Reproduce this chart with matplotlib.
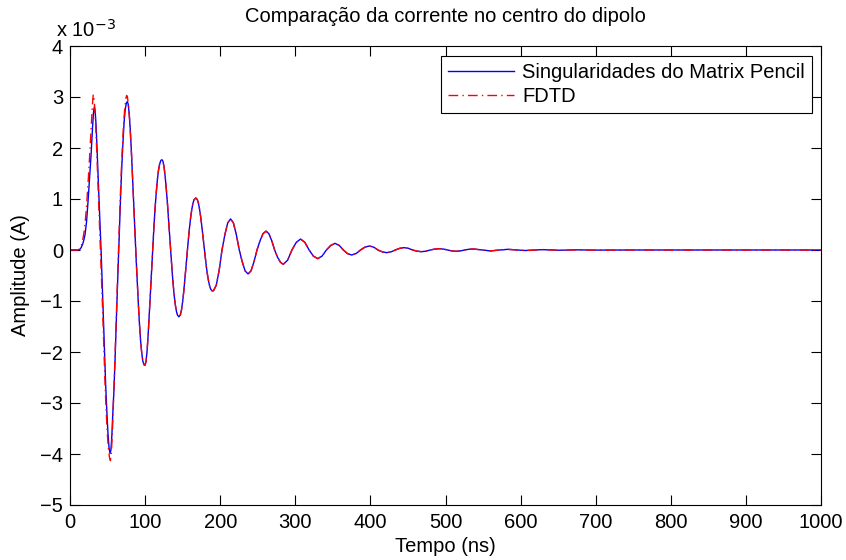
#comparing the dipole centre current
#matrix pencil singularities vs fdtd
import matplotlib
matplotlib.use('Agg')
import matplotlib.pyplot as plt
import numpy as np

#values, amplitude in units of 1e-3 A
t_mp=[0,10,13,15,17,18.5,20,22,24,26,28,30,31.3,32.4,33.5,34.5,35.5,37,38.5,40,41.5,43,44.5,46,47.5,49,50.5,52,53.3,54.5,55.7,57,58.5,60,61.5,63,64.5,66,67.5,69,70.5,72,73.5,75,76.3,77.5,79,80.5,82,83.5,85,86.5,88,89.5,91,92.5,94,95.5,97,98.5,99.9,101.3,102.8,104.3,105.8,107.3,108.8,110.3,111.8,113.3,114.8,116.3,117.8,119.3,120.8,122.3,123.8,125.3,126.8,128.3,129.8,131.3,132.8,134.3,135.8,137.3,138.8,140.3,141.8,143.3,145,147,148.5,150,151.5,153,154.5,156,157.5,159,160.5,162,163.5,165,167.5,169.5,171,172.5,174,175.5,177,178.5,180,181.5,183,184.5,186,187.5,189,191,194.8,198.6,202.4,206.2,210,213.8,217.6,221.5,225.4,229.3,233.2,237.1,241,245,249,253,257,261,264.8,268.7,272.5,276.3,280.2,284,289.8,295.5,301.3,307,312.7,318.4,324.1,329.8,335.6,341.4,347.2,353,358.5,364,369.5,375,380.9,386.8,392.7,398.6,404.4,410.1,415.9,421.6,427.4,433.2,439,444.7,450.5,456.3,462.1,468,473.9,479.8,485.7,491.7,497.3,503,508.5,514,520,525.5,531,537,549,560,572,583,595,606,618,629,652,675,698,750,1000]
amp_mp=[0,0,0.01,0.05,0.12,0.2,0.3,0.55,0.95,1.4,1.85,2.4,2.7,2.81,2.72,2.5,2.18,1.6,1.05,0.5,-0.05,-0.7,-1.4,-2.05,-2.65,-3.15,-3.58,-3.88,-3.99,-3.92,-3.65,-3.2,-2.75,-2.15,-1.45,-0.8,-0.15,0.5,1.1,1.65,2.1,2.5,2.75,2.88,2.91,2.86,2.65,2.3,1.85,1.35,0.85,0.35,-0.15,-0.6,-1.05,-1.45,-1.78,-2.02,-2.18,-2.25,-2.26,-2.18,-1.95,-1.6,-1.2,-0.78,-0.35,0.07,0.47,0.82,1.12,1.37,1.56,1.68,1.75,1.77,1.74,1.62,1.43,1.18,0.9,0.58,0.25,-0.08,-0.38,-0.66,-0.9,-1.08,-1.21,-1.28,-1.31,-1.27,-1.17,-1.01,-0.81,-0.57,-0.32,-0.06,0.19,0.42,0.62,0.78,0.9,0.98,1.02,0.99,0.92,0.8,0.65,0.47,0.27,0.07,-0.13,-0.32,-0.48,-0.61,-0.71,-0.77,-0.8,-0.8,-0.69,-0.4,0,0.3,0.53,0.61,0.53,0.3,0,-0.23,-0.41,-0.47,-0.41,-0.23,0,0.18,0.32,0.37,0.32,0.18,0,-0.14,-0.24,-0.28,-0.2,0,0.15,0.215,0.15,0,-0.12,-0.17,-0.12,0,0.09,0.13,0.09,0,-0.07,-0.098,-0.07,0,0.056,0.079,0.056,0,-0.037,-0.052,-0.037,0,0.033,0.046,0.033,0,-0.023,-0.033,-0.023,0,0.018,0.025,0.018,0,-0.018,-0.025,-0.018,0,0.014,0.02,0,-0.018,0,0.013,0,-0.01,0,0.007,-0.005,0.003,-0.002,0,0]

#fdtd overshoots a bit on the first cycles, then it sits on top of the matrix pencil curve
t_fdtd_head=[0,10,13,15,17,18.5,20,22,24,26,28,29.5,30.5,31,31.8,33,34.5,36,37.5,39,40.5,42,43.5,45,46.5,48,49.5,51,52.5,53.8,55.2,56.5,58,59.5,61,62.5,64,65.5,67,68.5,70,71.5,73,74.5,75.5,76.5,78,79.5,81]
amp_fdtd_head=[0,0,0.02,0.08,0.2,0.33,0.5,0.85,1.3,1.8,2.35,2.75,2.98,3.05,3.0,2.78,2.35,1.8,1.2,0.6,0.05,-0.55,-1.2,-1.9,-2.55,-3.1,-3.55,-3.88,-4.06,-4.13,-3.95,-3.55,-2.95,-2.3,-1.6,-0.92,-0.25,0.42,1.05,1.62,2.1,2.5,2.8,2.98,3.03,3.0,2.82,2.52,2.12]

series_labels=['Singularidades do Matrix Pencil','FDTD']
xticks=list(range(0,1001,100))
yticks=list(range(-5,5))

#glue the fdtd head onto the shared tail
tail=[i for i in range(len(t_mp)) if t_mp[i]>t_fdtd_head[-1]]
t_fdtd=t_fdtd_head+[t_mp[i] for i in tail]
amp_fdtd=amp_fdtd_head+[amp_mp[i] for i in tail]

plt.rcParams['font.family']=['Liberation Sans','DejaVu Sans']
fs=14.5

fig=plt.figure(figsize=(8.46,5.6),dpi=100)
ax=fig.add_axes([70/846,1-505/560,751/846,459/560])

ax.plot(t_mp,amp_mp,color=(0,0,1),lw=1,label=series_labels[0])
ax.plot(t_fdtd,amp_fdtd,color=(1,0,0),lw=1,linestyle=(0,(7,3,1,3)),label=series_labels[1])

ax.set_xlim(0,1000)
ax.set_ylim(-5,4)
ax.set_xticks(xticks)
ax.set_yticks(yticks)
ax.tick_params(direction='in',length=7,width=0.8,top=True,right=True,labelsize=fs)
ax.tick_params(axis='x',pad=6)
ax.tick_params(axis='y',pad=5)
for s in ax.spines.values():
    s.set_linewidth(0.8)

ax.set_title('Comparação da corrente no centro do dipolo',fontsize=fs,pad=17)
ax.set_xlabel('Tempo (ns)',fontsize=fs,labelpad=3)
ax.set_ylabel('Amplitude (A)',fontsize=fs,labelpad=7)
#the exponent label sits above the top left corner like in matlab
ax.text(-0.019,1.021,'x 10$^{-3}$',transform=ax.transAxes,fontsize=fs,ha='left',va='baseline')

leg=ax.legend(loc='upper right',bbox_to_anchor=(0.988,0.978),borderaxespad=0,
              fontsize=fs,fancybox=False,edgecolor='k',framealpha=1,
              handlelength=3.3,handletextpad=0.4,labelspacing=0.25,borderpad=0.35)
leg.get_frame().set_linewidth(0.8)

fig.savefig('out.png',dpi=100)
